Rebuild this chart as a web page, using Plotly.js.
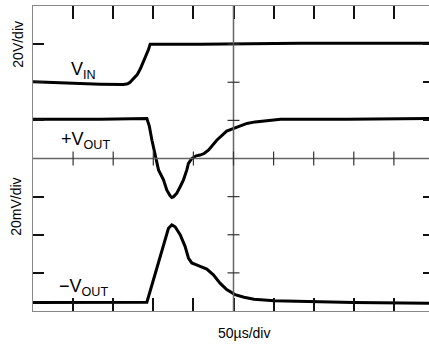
<!DOCTYPE html>
<html>
<head>
<meta charset="utf-8">
<script src="https://cdn.plot.ly/plotly-3.0.1.min.js"></script>
<style>
  html, body { margin: 0; padding: 0; background: #fff; overflow: hidden; }
  #chart { width: 436px; height: 344px; }
</style>
</head>
<body>
<div id="chart"></div>
<script>
// Scope capture: time in µs (50 µs/div), traces in screen divisions (8 div tall, centred on 0)
const vinTime  = [0, 34, 84, 113, 118, 121, 125, 130, 134, 138, 141, 144, 146.1, 208, 333, 500];
const vinDiv   = [2.01, 1.98, 1.95, 1.94, 1.96, 2.0, 2.08, 2.2, 2.36, 2.55, 2.7, 2.86, 3.0, 3.0, 3.02, 3.02];

const vposTime = [0, 84, 142, 145, 148.3, 156.5, 162.7, 166.9, 171.0, 173.1, 175.4, 179.3, 183.5, 187.6, 191.8, 193.8, 198, 203.4, 208.3, 213.3, 218.7, 229.1, 241.5, 250.6, 258, 266.8, 277, 287.9, 308.7, 391, 500];
const vposDiv  = [1.03, 1.03, 1.05, 0.85, 0.48, -0.30, -0.56, -0.83, -0.98, -1.02, -1.0, -0.91, -0.74, -0.56, -0.30, -0.13, 0.0, 0.07, 0.09, 0.13, 0.22, 0.48, 0.72, 0.79, 0.86, 0.92, 0.96, 0.99, 1.03, 1.03, 1.05];

const vnegTime = [0, 84, 142, 150.2, 158.6, 164.8, 168.9, 173.1, 177.2, 183.5, 189.7, 193.8, 198, 206.2, 216.7, 224.9, 233.2, 241.5, 251.9, 263.1, 275.5, 300.4, 350, 400, 500];
const vnegDiv  = [-3.78, -3.78, -3.77, -3.18, -2.57, -2.09, -1.83, -1.74, -1.79, -2.0, -2.31, -2.61, -2.74, -2.81, -2.90, -3.05, -3.27, -3.44, -3.57, -3.64, -3.69, -3.73, -3.76, -3.78, -3.80];

const xTicks = [50, 100, 150, 200, 250, 300, 350, 400, 450];
const yTicks = [-3, -2, -1, 1, 2, 3];

const traceLine = { color: '#000', width: 3, shape: 'linear' };
const traces = [
  { x: vinTime,  y: vinDiv,  mode: 'lines', line: traceLine, hoverinfo: 'skip' },
  { x: vposTime, y: vposDiv, mode: 'lines', line: traceLine, hoverinfo: 'skip' },
  { x: vnegTime, y: vnegDiv, mode: 'lines', line: traceLine, hoverinfo: 'skip' }
];

// Centre crosshair of the graticule with its small division marks
const shapes = [
  { type: 'line', xref: 'x', yref: 'paper', x0: 250, x1: 250, y0: 0, y1: 1, line: { color: '#666', width: 1.5 } },
  { type: 'line', xref: 'paper', yref: 'y', x0: 0, x1: 1, y0: 0, y1: 0, line: { color: '#666', width: 1.5 } }
];
xTicks.forEach(t => shapes.push({
  type: 'line', xref: 'x', yref: 'y', ysizemode: 'pixel', yanchor: 0,
  x0: t, x1: t, y0: -7, y1: 7, line: { color: '#333', width: 1.2 }
}));
yTicks.forEach(v => shapes.push({
  type: 'line', xref: 'x', yref: 'y', xsizemode: 'pixel', xanchor: 250,
  x0: -6, x1: 6, y0: v, y1: v, line: { color: '#333', width: 1.2 }
}));

const font = { family: 'Liberation Sans, Arial, sans-serif', color: '#000' };
const annotations = [
  { xref: 'paper', yref: 'paper', x: -0.036, y: 0.875, text: '20V/div', textangle: -90,
    xanchor: 'center', yanchor: 'middle', showarrow: false, font: Object.assign({ size: 14 }, font) },
  { xref: 'paper', yref: 'paper', x: -0.043, y: 0.341, text: '20mV/div', textangle: -90,
    xanchor: 'center', yanchor: 'middle', showarrow: false, font: Object.assign({ size: 14 }, font) },
  { xref: 'paper', yref: 'paper', x: 0.526, y: -0.073, text: '50µs/div',
    xanchor: 'center', yanchor: 'middle', showarrow: false, font: Object.assign({ size: 14 }, font) },
  { x: 44.5, y: 2.32, text: 'V<sub>IN</sub>', xanchor: 'left', yanchor: 'middle',
    showarrow: false, font: Object.assign({ size: 18 }, font) },
  { x: 33, y: 0.46, text: '+V<sub>OUT</sub>', xanchor: 'left', yanchor: 'middle',
    showarrow: false, font: Object.assign({ size: 18 }, font) },
  { x: 30, y: -3.39, text: '−V<sub>OUT</sub>', xanchor: 'left', yanchor: 'middle',
    showarrow: false, font: Object.assign({ size: 18 }, font) }
];

const layout = {
  width: 436, height: 344,
  margin: { l: 32.5, r: 1.5, t: 5.7, b: 32.7, pad: 0 },
  paper_bgcolor: '#fff', plot_bgcolor: '#fff',
  showlegend: false,
  xaxis: {
    range: [0, 500], tickvals: xTicks, ticks: 'inside', ticklen: 13, tickwidth: 1.5, tickcolor: '#111',
    showticklabels: false, showgrid: false, zeroline: false,
    showline: true, linecolor: '#888', linewidth: 1, mirror: 'ticks', fixedrange: true
  },
  yaxis: {
    range: [-4, 4], tickvals: yTicks, ticks: 'inside', ticklen: 11, tickwidth: 1.5, tickcolor: '#111',
    showticklabels: false, showgrid: false, zeroline: false,
    showline: true, linecolor: '#888', linewidth: 1, mirror: 'ticks', fixedrange: true
  },
  shapes: shapes,
  annotations: annotations
};

Plotly.newPlot('chart', traces, layout, { displayModeBar: false, responsive: false });
</script>
</body>
</html>
